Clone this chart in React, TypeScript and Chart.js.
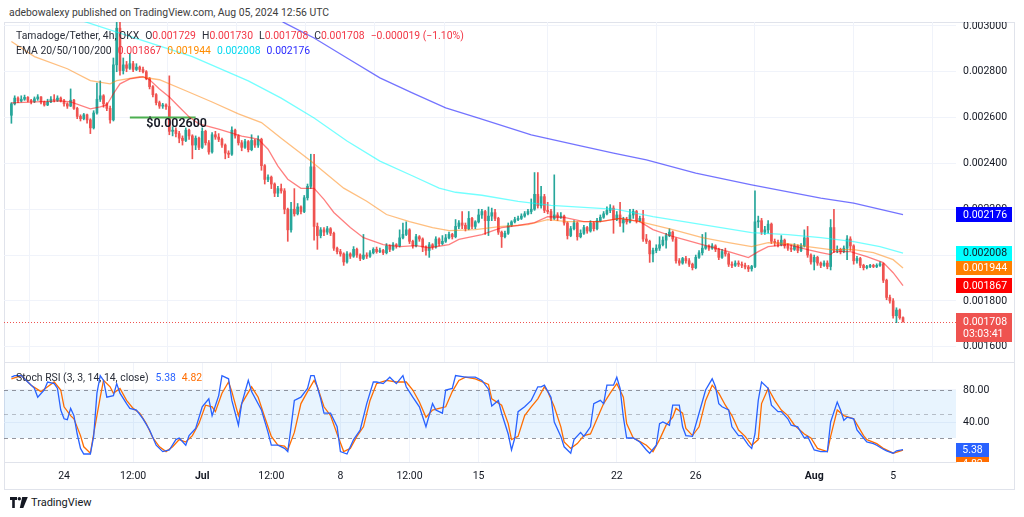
import React, { useEffect, useRef } from "react";
import { Chart, registerables } from "chart.js";

Chart.register(...registerables);

// Prices are stored in micro-USDT (1e-6 USDT)
const PRICE_UNIT = 1e-6;
const firstOpen = 2610;

const closes = [
  2660, 2685, 2672, 2680, 2688, 2675, 2670, 2682, 2690, 2668,
  2655, 2668, 2680, 2675, 2685, 2672, 2660, 2650, 2676, 2640,
  2605, 2595, 2612, 2590, 2555, 2620, 2680, 2695, 2660, 2640,
  2590, 2830, 2990, 2805, 2830, 2815, 2835, 2810, 2820, 2810,
  2800, 2770, 2735, 2700, 2665, 2650, 2655, 2648, 2540, 2545,
  2530, 2510, 2500, 2545, 2520, 2480, 2510, 2470, 2540, 2490,
  2450, 2525, 2515, 2505, 2480, 2445, 2440, 2545, 2520, 2490,
  2470, 2495, 2460, 2500, 2480, 2505, 2390, 2330, 2340, 2310,
  2270, 2290, 2280, 2200, 2110, 2200, 2180, 2210, 2190, 2250,
  2300, 2385, 2125, 2085, 2110, 2100, 2115, 2095, 2030, 2015,
  2005, 1970, 2005, 1995, 2025, 2000, 1985, 2000, 1995, 2010,
  2025, 2015, 2020, 2010, 2040, 2025, 2045, 2040, 2075, 2090,
  2110, 2060, 2040, 2080, 2070, 2035, 2020, 2045, 2035, 2070,
  2050, 2060, 2075, 2090, 2080, 2125, 2140, 2130, 2115, 2160,
  2125, 2145, 2175, 2190, 2150, 2170, 2185, 2160, 2100, 2080,
  2095, 2130, 2145, 2155, 2160, 2170, 2180, 2190, 2200, 2265,
  2215, 2255, 2195, 2190, 2160, 2175, 2165, 2170, 2140, 2085,
  2115, 2140, 2080, 2095, 2120, 2105, 2140, 2115, 2150, 2165,
  2180, 2195, 2205, 2155, 2175, 2140, 2155, 2145, 2175, 2190,
  2150, 2160, 2070, 2060, 2005, 2020, 2030, 2045, 2065, 2085,
  2100, 2070, 1975, 1965, 1985, 1975, 1960, 1945, 1990, 2010,
  2030, 2040, 2030, 2040, 2025, 1990, 2015, 2005, 1960, 1955,
  1965, 1960, 1955, 1948, 1940, 1950, 2145, 2150, 2100, 2110,
  2135, 2060, 2055, 2045, 2065, 2040, 2030, 2025, 2040, 2020,
  2040, 2075, 2000, 1970, 1990, 1965, 1955, 1965, 1950, 2120,
  2020, 2025, 2015, 2030, 2070, 2040, 1975, 1985, 1955, 1945,
  1950, 1955, 1950, 1955, 1962, 1890, 1815, 1800, 1735, 1760,
  1727, 1708,
];

const highs = [
  2665, 2695, 2690, 2695, 2698, 2692, 2680, 2690, 2700, 2692,
  2672, 2680, 2692, 2700, 2695, 2690, 2680, 2665, 2725, 2680,
  2645, 2612, 2618, 2615, 2595, 2630, 2750, 2760, 2700, 2665,
  2650, 2860, 3040, 3040, 2860, 2845, 2880, 2845, 2835, 2825,
  2820, 2805, 2775, 2740, 2705, 2672, 2662, 2660, 2782, 2560,
  2555, 2540, 2520, 2555, 2550, 2525, 2520, 2515, 2555, 2545,
  2500, 2535, 2540, 2530, 2510, 2485, 2455, 2560, 2550, 2525,
  2500, 2505, 2500, 2525, 2505, 2520, 2510, 2395, 2350, 2345,
  2315, 2300, 2310, 2290, 2205, 2230, 2290, 2225, 2215, 2260,
  2310, 2440, 2440, 2140, 2120, 2120, 2125, 2120, 2100, 2035,
  2025, 2010, 2015, 2010, 2037, 2030, 2005, 2090, 2010, 2020,
  2032, 2035, 2030, 2025, 2050, 2045, 2055, 2050, 2110, 2140,
  2145, 2115, 2065, 2090, 2085, 2075, 2040, 2055, 2050, 2080,
  2075, 2085, 2090, 2100, 2095, 2155, 2150, 2190, 2140, 2190,
  2165, 2150, 2200, 2200, 2195, 2210, 2205, 2200, 2165, 2105,
  2105, 2140, 2150, 2165, 2170, 2180, 2190, 2200, 2245, 2360,
  2360, 2300, 2265, 2230, 2200, 2350, 2185, 2185, 2175, 2145,
  2125, 2150, 2145, 2110, 2130, 2125, 2150, 2145, 2160, 2175,
  2190, 2210, 2220, 2215, 2190, 2230, 2165, 2165, 2200, 2200,
  2195, 2170, 2195, 2090, 2065, 2030, 2045, 2080, 2080, 2095,
  2115, 2105, 2075, 1985, 1990, 1995, 1985, 1965, 2000, 2020,
  2090, 2098, 2045, 2050, 2045, 2030, 2025, 2030, 2010, 1970,
  1975, 1975, 1970, 1965, 1955, 1955, 2280, 2170, 2160, 2125,
  2150, 2140, 2070, 2065, 2085, 2070, 2050, 2045, 2050, 2045,
  2050, 2110, 2125, 2005, 2000, 1995, 1970, 1975, 1975, 2155,
  2200, 2040, 2030, 2040, 2085, 2080, 2045, 1995, 1990, 1960,
  1955, 1960, 1960, 1962, 1970, 1965, 1895, 1825, 1810, 1770,
  1765, 1730,
];

const lows = [
  2575, 2655, 2665, 2668, 2675, 2668, 2660, 2665, 2675, 2660,
  2650, 2652, 2665, 2668, 2670, 2668, 2650, 2640, 2648, 2635,
  2595, 2585, 2590, 2575, 2530, 2550, 2615, 2670, 2645, 2630,
  2575, 2585, 2800, 2785, 2790, 2800, 2810, 2800, 2805, 2800,
  2795, 2765, 2725, 2690, 2655, 2640, 2640, 2635, 2525, 2520,
  2515, 2490, 2480, 2495, 2505, 2420, 2460, 2460, 2465, 2480,
  2440, 2445, 2505, 2495, 2470, 2420, 2425, 2435, 2510, 2480,
  2455, 2465, 2450, 2455, 2470, 2470, 2370, 2310, 2320, 2290,
  2255, 2255, 2270, 2180, 2060, 2100, 2170, 2175, 2180, 2185,
  2240, 2290, 2065, 2025, 2075, 2085, 2090, 2085, 2020, 2005,
  1995, 1955, 1965, 1985, 1990, 1990, 1975, 1980, 1985, 1990,
  2005, 2008, 2010, 2002, 2005, 2015, 2020, 2030, 2035, 2070,
  2085, 2050, 2030, 2035, 2060, 2015, 2000, 1990, 2025, 2030,
  2040, 2045, 2055, 2070, 2070, 2075, 2115, 2115, 2105, 2110,
  2115, 2115, 2140, 2160, 2090, 2085, 2150, 2150, 2090, 2033,
  2075, 2090, 2125, 2140, 2150, 2155, 2165, 2175, 2180, 2195,
  2205, 2205, 2185, 2180, 2150, 2155, 2150, 2160, 2130, 2070,
  2080, 2110, 2065, 2075, 2090, 2095, 2100, 2105, 2110, 2145,
  2160, 2175, 2185, 2095, 2150, 2125, 2100, 2135, 2140, 2160,
  2140, 2145, 2060, 2050, 1968, 1970, 2010, 2020, 2040, 2030,
  2080, 2060, 1965, 1955, 1960, 1965, 1950, 1935, 1940, 1985,
  2000, 2025, 2020, 2025, 2015, 1980, 1985, 1995, 1950, 1945,
  1950, 1950, 1945, 1940, 1928, 1930, 1945, 2120, 2090, 2090,
  2095, 2050, 2040, 2035, 2040, 2030, 2020, 2015, 2020, 2010,
  2015, 2035, 1990, 1960, 1935, 1955, 1945, 1950, 1940, 1935,
  2010, 2010, 2005, 2010, 1980, 2020, 1960, 1965, 1945, 1935,
  1940, 1945, 1945, 1945, 1950, 1880, 1805, 1790, 1725, 1705,
  1720, 1708,
];

// EMA readings: [bar index, value in micro-USDT]
const ema20: [number, number][] = [
  [0, 2664], [15, 2673], [18, 2668], [24, 2638], [27, 2647], [29, 2655], [31, 2704], [33, 2747], [36, 2769], [40, 2778],
  [42, 2765], [45, 2725], [48, 2690], [51, 2646], [54, 2603], [57, 2572], [63, 2550], [70, 2519], [75, 2506], [78, 2462],
  [81, 2388], [84, 2331], [88, 2291], [92, 2291], [95, 2243], [98, 2186], [103, 2120], [107, 2076], [113, 2046], [118, 2037],
  [123, 2041], [127, 2032], [133, 2046], [136, 2068], [143, 2089], [149, 2120], [154, 2129], [159, 2142], [163, 2168], [168, 2164],
  [174, 2146], [179, 2146], [185, 2160], [191, 2146], [195, 2111], [201, 2081], [210, 2046], [218, 2015], [224, 1989], [227, 2015],
  [230, 2037], [236, 2046], [242, 2024], [246, 2011], [249, 2002], [250, 2015], [255, 2015], [260, 1993], [265, 1967], [268, 1923],
  [271, 1867],
];
const ema50: [number, number][] = [
  [0, 2932], [7, 2866], [17, 2813], [24, 2761], [30, 2747], [32, 2761], [39, 2778], [45, 2765], [53, 2717], [61, 2668],
  [69, 2616], [76, 2578], [82, 2510], [91, 2410], [101, 2292], [108, 2235], [114, 2177], [121, 2146], [128, 2120], [133, 2107],
  [141, 2111], [149, 2125], [157, 2133], [163, 2155], [169, 2146], [179, 2146], [185, 2160], [191, 2146], [201, 2111], [210, 2076],
  [218, 2054], [225, 2037], [230, 2054], [236, 2050], [242, 2037], [249, 2024], [256, 2024], [262, 2011], [268, 1980], [271, 1944],
];
const ema100: [number, number][] = [
  [12, 3085], [22, 3020], [36, 2954], [55, 2866], [72, 2760], [82, 2685], [92, 2598], [102, 2498], [112, 2410], [122, 2345],
  [130, 2292], [135, 2274], [143, 2261], [154, 2234], [164, 2217], [174, 2208], [184, 2199], [195, 2168], [210, 2133], [225, 2098],
  [236, 2089], [246, 2076], [256, 2059], [264, 2037], [271, 2008],
];
const ema200: [number, number][] = [
  [76, 3078], [83, 3013], [92, 2947], [102, 2860], [112, 2773], [122, 2707], [132, 2642], [142, 2598], [158, 2524], [173, 2476],
  [183, 2445], [193, 2415], [208, 2358], [225, 2306], [246, 2248], [256, 2227], [271, 2176],
];

// Stoch RSI readings: [bar index, value]
const stochK: [number, number][] = [
  [0, 96], [1, 98], [3, 98], [5, 90], [7, 82], [8, 71], [10, 80], [11, 90], [13, 88], [14, 82],
  [15, 55], [16, 44], [17, 43], [18, 57], [19, 48], [20, 25], [21, 7], [22, 0], [24, 0], [25, 22],
  [26, 76], [27, 98], [28, 92], [29, 71], [31, 73], [32, 88], [33, 76], [35, 63], [36, 57], [38, 55],
  [40, 44], [42, 30], [44, 11], [46, 3], [48, 5], [50, 18], [51, 20], [53, 11], [54, 23], [56, 32],
  [58, 59], [60, 69], [61, 48], [63, 73], [64, 98], [66, 94], [67, 67], [69, 36], [70, 63], [72, 92],
  [73, 78], [76, 55], [78, 27], [79, 11], [81, 11], [83, 7], [84, 3], [85, 34], [86, 67], [88, 71],
  [90, 82], [91, 98], [92, 98], [94, 69], [95, 51], [97, 51], [99, 34], [100, 3], [102, 0], [104, 18],
  [106, 30], [108, 63], [110, 90], [111, 90], [113, 88], [115, 96], [117, 88], [119, 98], [120, 84], [122, 71],
  [124, 59], [126, 34], [128, 63], [129, 55], [131, 51], [132, 80], [134, 82], [135, 98], [138, 96], [141, 96],
  [143, 92], [145, 81], [146, 60], [148, 67], [149, 51], [151, 25], [152, 5], [153, 20], [154, 53], [156, 59],
  [158, 67], [160, 84], [161, 84], [162, 86], [164, 71], [165, 40], [167, 22], [168, 9], [170, 1], [171, 18],
  [173, 27], [174, 22], [176, 34], [177, 63], [179, 67], [180, 63], [181, 86], [183, 86], [184, 96], [185, 82],
  [186, 46], [187, 20], [189, 20], [191, 15], [193, 5], [194, 1], [196, 11], [197, 38], [198, 40], [200, 36],
  [201, 61], [203, 61], [204, 34], [205, 23], [207, 22], [209, 51], [211, 80], [213, 94], [214, 84], [215, 63],
  [216, 59], [218, 55], [219, 34], [221, 23], [222, 23], [224, 11], [225, 7], [226, 25], [227, 67], [228, 90],
  [230, 82], [231, 61], [233, 53], [234, 53], [236, 44], [237, 36], [239, 34], [241, 20], [242, 22], [244, 5],
  [246, 3], [248, 3], [249, 40], [251, 65], [252, 55], [253, 42], [254, 46], [256, 44], [257, 30], [259, 20],
  [260, 15], [262, 13], [263, 11], [265, 6], [266, 4], [268, 1], [269, 4], [271, 5.38],
];
const stochD: [number, number][] = [
  [0, 94], [3, 98], [6, 86], [9, 78], [11, 84], [13, 90], [15, 80], [16, 59], [18, 48], [19, 44],
  [21, 23], [22, 9], [24, 1], [25, 25], [27, 71], [28, 92], [30, 84], [31, 76], [33, 82], [35, 67],
  [37, 57], [39, 51], [41, 38], [43, 20], [45, 9], [47, 3], [49, 9], [51, 18], [53, 15], [55, 23],
  [57, 38], [59, 61], [61, 59], [62, 53], [64, 76], [66, 90], [67, 78], [69, 48], [70, 63], [73, 84],
  [75, 71], [77, 46], [79, 22], [81, 11], [83, 10], [84, 5], [86, 27], [88, 63], [90, 78], [92, 92],
  [93, 84], [95, 59], [97, 48], [99, 25], [101, 3], [103, 7], [105, 22], [107, 34], [109, 67], [111, 88],
  [114, 92], [117, 90], [120, 90], [122, 80], [124, 65], [126, 46], [128, 55], [130, 57], [132, 59], [134, 78],
  [136, 92], [138, 96], [141, 94], [145, 87], [146, 69], [149, 61], [151, 38], [152, 18], [154, 22], [156, 48],
  [158, 59], [160, 69], [162, 84], [163, 78], [165, 59], [167, 34], [168, 15], [170, 7], [172, 13], [174, 23],
  [176, 25], [178, 44], [180, 63], [182, 76], [184, 88], [186, 71], [187, 38], [189, 20], [190, 18], [193, 11],
  [195, 3], [197, 18], [199, 36], [201, 46], [202, 57], [204, 51], [205, 32], [207, 23], [209, 34], [211, 67],
  [213, 86], [215, 76], [217, 61], [219, 48], [221, 30], [223, 22], [225, 11], [227, 18], [228, 63], [230, 82],
  [232, 67], [234, 55], [236, 48], [238, 36], [241, 25], [243, 20], [245, 7], [248, 3], [249, 22], [251, 55],
  [253, 48], [256, 44], [259, 23], [260, 18], [263, 13], [265, 7], [268, 1], [271, 4.82],
];

const timeTickBars = [16, 37, 58, 79, 100, 121, 142, 184, 208, 244, 268];
const timeTickLabels = ["24", "12:00", "Jul", "12:00", "8", "12:00", "15", "22", "26", "Aug", "5"];
const boldTimeLabels = ["Jul", "Aug"];
const priceTicks = [1600, 1800, 2000, 2200, 2400, 2600, 2800, 3000];
const stochTicks = [40, 80];
const stochBandLevels = [80, 50, 20];

const levelPrice = 2600;
const levelFromBar = 36;
const levelToBar = 56;
const levelTextBar = 41;
const levelLabel = "$0.002600";
const countdown = "03:03:41";

// ---- styles ----
const FONT = "Roboto, 'Noto Sans', sans-serif";
const TEXT = "#131722";
const GRID = "#f0f3fa";
const UP = "#26a69a";
const DOWN = "#ef5350";
const X_MIN = -2.25;
const X_MAX = 287.1;
const PRICE_MIN = 1529;
const PRICE_MAX = 3017;
const STOCH_MIN = -10;
const STOCH_MAX = 113.75;
const AXIS_W = 58;
const AXIS_FONT = 10.5;
const LEGEND_FONT = 10.4;

const emaSeries = [
  { name: "EMA20", data: ema20, line: "rgba(255,0,0,0.5)", tag: "#ff0000", text: "#ffffff", legend: "#f23645" },
  { name: "EMA50", data: ema50, line: "rgba(255,128,0,0.5)", tag: "#ff7f00", text: "#ffffff", legend: "#ff8c00" },
  { name: "EMA100", data: ema100, line: "rgba(0,255,255,0.55)", tag: "#00ffff", text: "#131722", legend: "#00d8f0" },
  { name: "EMA200", data: ema200, line: "rgba(0,0,255,0.55)", tag: "#0000ff", text: "#ffffff", legend: "#2a2aff" },
];
const K_COLOR = "#2962ff";
const D_COLOR = "#ff6d00";

const toPrice = (v: number) => v * PRICE_UNIT;
const fmt6 = (v: number) => toPrice(v).toFixed(6);
const lastOf = (a: [number, number][]) => a[a.length - 1][1];

const opens = closes.map((c, i) => (i === 0 ? firstOpen : closes[i - 1]));
const candleColors = closes.map((c, i) => (c >= opens[i] ? UP : DOWN));

function drawTag(ctx: CanvasRenderingContext2D, x: number, w: number, top: number, h: number, bg: string) {
  ctx.fillStyle = bg;
  ctx.fillRect(x, top, w, h);
}

export default function App() {
  const mainRef = useRef<HTMLCanvasElement>(null);
  const stochRef = useRef<HTMLCanvasElement>(null);

  useEffect(() => {
    const mainOverlay = {
      id: "mainOverlay",
      beforeDatasetsDraw(chart: any) {
        const { ctx, chartArea, scales } = chart;
        const py = Math.round(scales.y.getPixelForValue(toPrice(closes[closes.length - 1]))) + 0.5;
        ctx.save();
        ctx.strokeStyle = DOWN;
        ctx.lineWidth = 1;
        ctx.setLineDash([1, 2]);
        ctx.beginPath();
        ctx.moveTo(chartArea.left, py);
        ctx.lineTo(chartArea.right, py);
        ctx.stroke();
        ctx.restore();
      },
      afterDraw(chart: any) {
        const { ctx, chartArea, scales } = chart;
        ctx.save();
        const lx = scales.x.getPixelForValue(levelTextBar);
        const ly = scales.y.getPixelForValue(toPrice(levelPrice));
        ctx.font = `600 12.5px ${FONT}`;
        ctx.fillStyle = TEXT;
        ctx.textBaseline = "middle";
        ctx.textAlign = "left";
        ctx.fillText(levelLabel, lx, ly + 6);

        const x0 = chartArea.right;
        const w = 56;
        ctx.font = `${AXIS_FONT}px ${FONT}`;
        for (const s of emaSeries) {
          const v = lastOf(s.data);
          const yc = scales.y.getPixelForValue(toPrice(v));
          drawTag(ctx, x0, w, Math.round(yc - 7.5), 15, s.tag);
          ctx.fillStyle = s.text;
          ctx.fillText(fmt6(v), x0 + 7, yc + 0.5);
        }
        const lastClose = closes[closes.length - 1];
        const yl = scales.y.getPixelForValue(toPrice(lastClose));
        drawTag(ctx, x0, w, Math.round(yl - 8.5), 29, DOWN);
        ctx.fillStyle = "#ffffff";
        ctx.fillText(fmt6(lastClose), x0 + 7, yl);
        ctx.fillText(countdown, x0 + 7, yl + 12);
        ctx.restore();
      },
    };

    const main = new Chart(mainRef.current as HTMLCanvasElement, {
      type: "bar",
      data: {
        datasets: [
          ...emaSeries.map((s) => ({
            type: "line" as const,
            label: s.name,
            data: s.data.map(([b, v]) => ({ x: b, y: toPrice(v) })),
            borderColor: s.line,
            borderWidth: 1.3,
            pointRadius: 0,
            tension: 0,
            order: 0,
          })),
          {
            type: "line" as const,
            label: "level",
            data: [
              { x: levelFromBar, y: toPrice(levelPrice) },
              { x: levelToBar, y: toPrice(levelPrice) },
            ],
            borderColor: "#4caf50",
            borderWidth: 2,
            pointRadius: 0,
            order: 0,
          },
          {
            type: "bar" as const,
            label: "bodies",
            data: closes.map((c, i) => ({ x: i, y: [toPrice(opens[i]), toPrice(c)] })),
            backgroundColor: candleColors,
            barThickness: 2,
            minBarLength: 1,
            grouped: false,
            order: 1,
          },
          {
            type: "bar" as const,
            label: "wicks",
            data: closes.map((c, i) => ({ x: i, y: [toPrice(lows[i]), toPrice(highs[i])] })),
            backgroundColor: candleColors,
            barThickness: 1,
            grouped: false,
            order: 2,
          },
        ],
      } as any,
      options: {
        animation: false,
        responsive: false,
        events: [],
        layout: { padding: 0 },
        plugins: { legend: { display: false }, tooltip: { enabled: false } },
        scales: {
          x: {
            type: "linear",
            min: X_MIN,
            max: X_MAX,
            offset: false,
            grid: { color: GRID, drawTicks: false },
            border: { display: false },
            ticks: { display: false },
            afterBuildTicks: (ax: any) => {
              ax.ticks = timeTickBars.map((v) => ({ value: v }));
            },
            afterFit: (s: any) => {
              s.height = 0;
              s.paddingLeft = 0;
              s.paddingRight = 0;
            },
          },
          y: {
            position: "right",
            min: toPrice(PRICE_MIN),
            max: toPrice(PRICE_MAX),
            grid: { color: GRID, drawTicks: false },
            border: { display: false },
            ticks: {
              padding: 7,
              color: TEXT,
              font: { family: FONT, size: AXIS_FONT },
              callback: (v: any) => Number(v).toFixed(6),
            },
            afterBuildTicks: (ax: any) => {
              ax.ticks = priceTicks.map((v) => ({ value: toPrice(v) }));
            },
            afterFit: (s: any) => {
              s.width = AXIS_W;
              s.paddingTop = 0;
              s.paddingBottom = 0;
            },
          },
        },
      } as any,
      plugins: [mainOverlay],
    });

    const stochOverlay = {
      id: "stochOverlay",
      beforeDatasetsDraw(chart: any) {
        const { ctx, chartArea, scales } = chart;
        ctx.save();
        const yTop = scales.y.getPixelForValue(stochBandLevels[0]);
        const yBot = scales.y.getPixelForValue(stochBandLevels[2]);
        ctx.fillStyle = "rgba(33,150,243,0.1)";
        ctx.fillRect(chartArea.left, yTop, chartArea.right - chartArea.left, yBot - yTop);
        ctx.setLineDash([4, 4]);
        ctx.lineWidth = 1;
        stochBandLevels.forEach((lv, i) => {
          const yy = Math.round(scales.y.getPixelForValue(lv)) + 0.5;
          ctx.strokeStyle = i === 1 ? "rgba(120,123,134,0.45)" : "rgba(120,123,134,0.8)";
          ctx.beginPath();
          ctx.moveTo(chartArea.left, yy);
          ctx.lineTo(chartArea.right, yy);
          ctx.stroke();
        });
        ctx.restore();
      },
      afterDraw(chart: any) {
        const { ctx, chartArea, scales } = chart;
        ctx.save();
        ctx.beginPath();
        ctx.rect(chartArea.right, 0, chart.width - chartArea.right, chartArea.bottom);
        ctx.clip();
        const x0 = chartArea.right;
        const w = 33;
        const kv = lastOf(stochK);
        const dv = lastOf(stochD);
        const yk = scales.y.getPixelForValue(kv);
        const kTop = Math.round(yk - 7);
        ctx.font = `${AXIS_FONT}px ${FONT}`;
        ctx.textAlign = "center";
        ctx.textBaseline = "middle";
        drawTag(ctx, x0, w, kTop + 14, 14, D_COLOR);
        ctx.fillStyle = "#ffffff";
        ctx.fillText(dv.toFixed(2), x0 + w / 2, kTop + 21.5);
        drawTag(ctx, x0, w, kTop, 14, K_COLOR);
        ctx.fillStyle = "#ffffff";
        ctx.fillText(kv.toFixed(2), x0 + w / 2, kTop + 7.5);
        ctx.restore();
      },
    };

    const stoch = new Chart(stochRef.current as HTMLCanvasElement, {
      type: "line",
      data: {
        datasets: [
          {
            label: "K",
            data: stochK.map(([b, v]) => ({ x: b, y: v })),
            borderColor: K_COLOR,
            borderWidth: 1.3,
            pointRadius: 0,
            tension: 0,
            order: 0,
          },
          {
            label: "D",
            data: stochD.map(([b, v]) => ({ x: b, y: v })),
            borderColor: D_COLOR,
            borderWidth: 1.3,
            pointRadius: 0,
            tension: 0,
            order: 1,
          },
        ],
      } as any,
      options: {
        animation: false,
        responsive: false,
        events: [],
        layout: { padding: 0 },
        plugins: { legend: { display: false }, tooltip: { enabled: false } },
        scales: {
          x: {
            type: "linear",
            min: X_MIN,
            max: X_MAX,
            offset: false,
            grid: { color: GRID, drawTicks: false },
            border: { display: true, color: "#e0e3eb" },
            ticks: {
              padding: 8,
              color: TEXT,
              autoSkip: false,
              maxRotation: 0,
              font: (c: any) => ({
                family: FONT,
                size: AXIS_FONT,
                weight: boldTimeLabels.includes(timeTickLabels[c.index]) ? "bold" : "normal",
              }),
              callback: (_v: any, i: number) => timeTickLabels[i],
            },
            afterBuildTicks: (ax: any) => {
              ax.ticks = timeTickBars.map((v) => ({ value: v }));
            },
            afterFit: (s: any) => {
              s.height = 27;
              s.paddingLeft = 0;
              s.paddingRight = 0;
            },
          },
          y: {
            position: "right",
            min: STOCH_MIN,
            max: STOCH_MAX,
            grid: { color: GRID, drawTicks: false },
            border: { display: false },
            ticks: {
              padding: 7,
              color: TEXT,
              font: { family: FONT, size: AXIS_FONT },
              callback: (v: any) => Number(v).toFixed(2),
            },
            afterBuildTicks: (ax: any) => {
              ax.ticks = stochTicks.map((v) => ({ value: v }));
            },
            afterFit: (s: any) => {
              s.width = AXIS_W;
              s.paddingTop = 0;
              s.paddingBottom = 0;
            },
          },
        },
      } as any,
      plugins: [stochOverlay],
    });

    return () => {
      main.destroy();
      stoch.destroy();
    };
  }, []);

  const red = "#f23645";
  const abs: React.CSSProperties = { position: "absolute", whiteSpace: "nowrap", pointerEvents: "none" };
  const legendFont: React.CSSProperties = { fontFamily: FONT, fontSize: LEGEND_FONT, lineHeight: "14px", color: "#2a2e39" };
  const ohlc = [
    ["O", "0.001729"],
    ["H", "0.001730"],
    ["L", "0.001708"],
    ["C", "0.001708"],
  ];

  return (
    <div style={{ position: "absolute", left: 0, top: 0, width: 1024, height: 517, background: "#ffffff", overflow: "hidden" }}>
      <div style={{ ...abs, ...legendFont, fontSize: 10.4, left: 9, top: 6, color: "#3d3d3d" }}>
        adebowalexy published on TradingView.com, Aug 05, 2024 12:56 UTC
      </div>
      <div style={{ position: "absolute", left: 4, top: 22, width: 1009, height: 466, border: "1px solid #e0e3eb" }} />
      <canvas ref={mainRef} width={1010} height={341} style={{ position: "absolute", left: 4, top: 22, width: 1010, height: 341 }} />
      <div style={{ position: "absolute", left: 4, top: 362, width: 1010, height: 1, background: "#e0e3eb" }} />
      <canvas ref={stochRef} width={1010} height={126} style={{ position: "absolute", left: 4, top: 363, width: 1010, height: 126 }} />

      <div style={{ ...abs, ...legendFont, left: 16, top: 29 }}>
        <span>Tamadoge/Tether, 4h, OKX</span>
        {ohlc.map(([k, v]) => (
          <span key={k} style={{ marginLeft: 6 }}>
            {k}
            <span style={{ color: red }}>{v}</span>
          </span>
        ))}
        <span style={{ marginLeft: 6, color: red }}>−0.000019 (−1.10%)</span>
      </div>
      <div style={{ ...abs, ...legendFont, left: 16, top: 44 }}>
        <span>EMA 20/50/100/200</span>
        {emaSeries.map((s) => (
          <span key={s.name} style={{ marginLeft: 6, color: s.legend }}>
            {fmt6(lastOf(s.data))}
          </span>
        ))}
      </div>
      <div style={{ ...abs, ...legendFont, left: 16, top: 371 }}>
        <span>Stoch RSI (3, 3, 14, 14, close)</span>
        <span style={{ marginLeft: 7, color: K_COLOR }}>{lastOf(stochK).toFixed(2)}</span>
        <span style={{ marginLeft: 6, color: D_COLOR }}>{lastOf(stochD).toFixed(2)}</span>
      </div>

      <div style={{ ...abs, left: 10, top: 496, display: "flex", alignItems: "center" }}>
        <svg width="18" height="11" viewBox="0 0 18 11">
          <path d="M0 0h7v3H4.8v8H2.2V3H0z" fill={TEXT} />
          <circle cx="9.3" cy="1.7" r="1.7" fill={TEXT} />
          <path d="M12.2 0h5.6L13.3 11H9.8z" fill={TEXT} />
        </svg>
        <span style={{ marginLeft: 3, fontFamily: FONT, fontSize: 11, color: TEXT }}>TradingView</span>
      </div>
    </div>
  );
}
